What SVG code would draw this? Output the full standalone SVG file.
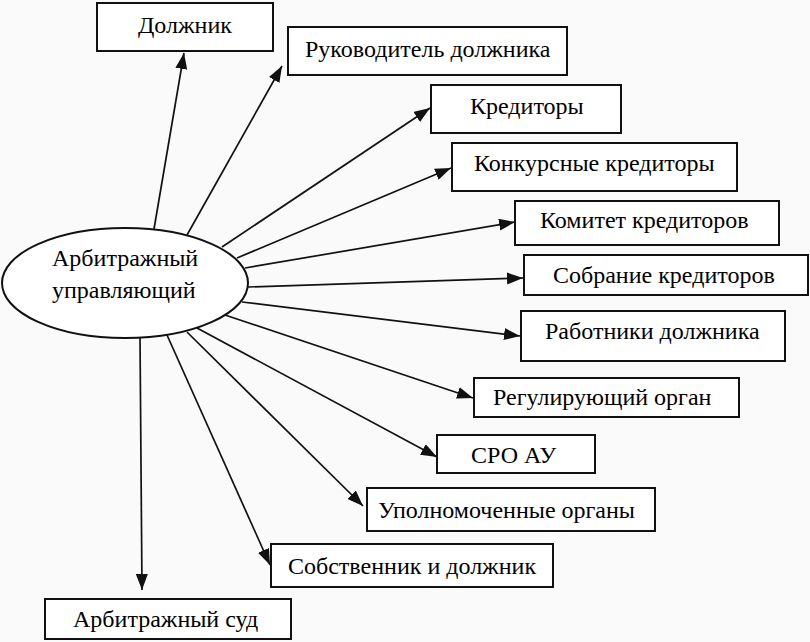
<svg xmlns="http://www.w3.org/2000/svg" width="810" height="642" viewBox="0 0 810 642">
<defs>
<marker id="ah" viewBox="0 0 16 12" refX="16" refY="6" markerWidth="16" markerHeight="12" markerUnits="userSpaceOnUse" orient="auto">
<path d="M0,0 L16,6 L0,12 z" fill="#111"/>
</marker>
</defs>
<rect x="0" y="0" width="810" height="642" fill="#fafafa"/>
<g id="connectors" stroke="#111" stroke-width="1.7" fill="none" marker-end="url(#ah)">
<line x1="154" y1="229" x2="184" y2="53"/>
<line x1="187" y1="235" x2="282" y2="66"/>
<line x1="222" y1="247" x2="430" y2="108"/>
<line x1="237" y1="258" x2="451" y2="168"/>
<line x1="245" y1="268" x2="515" y2="222"/>
<line x1="248" y1="287" x2="523" y2="278"/>
<line x1="242" y1="302" x2="520" y2="336"/>
<line x1="225" y1="315" x2="473" y2="398"/>
<line x1="197" y1="328" x2="437" y2="457"/>
<line x1="187" y1="332" x2="363" y2="506"/>
<line x1="167" y1="335" x2="270" y2="565"/>
<line x1="140" y1="337" x2="142" y2="590"/>
</g>
<g id="manager">
<ellipse cx="125" cy="283" rx="123" ry="55" fill="#fff" stroke="#111" stroke-width="2"/>
<text x="52" y="266" font-family="Liberation Serif" font-size="24">Арбитражный</text>
<text x="52" y="298" font-family="Liberation Serif" font-size="24">управляющий</text>
</g>
<g id="n1"><rect x="97" y="3" width="176" height="48" fill="#fff" stroke="#111" stroke-width="2"/><text x="138" y="33" font-family="Liberation Serif" font-size="24">Должник</text></g>
<g id="n2"><rect x="288" y="27" width="279" height="48" fill="#fff" stroke="#111" stroke-width="2"/><text x="305" y="57" font-family="Liberation Serif" font-size="24">Руководитель должника</text></g>
<g id="n3"><rect x="431" y="85" width="190" height="48" fill="#fff" stroke="#111" stroke-width="2"/><text x="470" y="114" font-family="Liberation Serif" font-size="24">Кредиторы</text></g>
<g id="n4"><rect x="452" y="143" width="285" height="48" fill="#fff" stroke="#111" stroke-width="2"/><text x="474" y="171" font-family="Liberation Serif" font-size="24">Конкурсные кредиторы</text></g>
<g id="n5"><rect x="515" y="201" width="264" height="44" fill="#fff" stroke="#111" stroke-width="2"/><text x="540" y="228" font-family="Liberation Serif" font-size="24">Комитет кредиторов</text></g>
<g id="n6"><rect x="524" y="255" width="284" height="40" fill="#fff" stroke="#111" stroke-width="2"/><text x="553" y="283" font-family="Liberation Serif" font-size="24">Собрание кредиторов</text></g>
<g id="n7"><rect x="521" y="311" width="264" height="50" fill="#fff" stroke="#111" stroke-width="2"/><text x="545" y="339" font-family="Liberation Serif" font-size="24">Работники должника</text></g>
<g id="n8"><rect x="474" y="378" width="265" height="39" fill="#fff" stroke="#111" stroke-width="2"/><text x="493" y="405" font-family="Liberation Serif" font-size="24">Регулирующий орган</text></g>
<g id="n9"><rect x="437" y="435" width="158" height="38" fill="#fff" stroke="#111" stroke-width="2"/><text x="471" y="463" font-family="Liberation Serif" font-size="24">СРО АУ</text></g>
<g id="n10"><rect x="367" y="488" width="288" height="43" fill="#fff" stroke="#111" stroke-width="2"/><text x="378" y="518" font-family="Liberation Serif" font-size="24">Уполномоченные органы</text></g>
<g id="n11"><rect x="271" y="544" width="282" height="43" fill="#fff" stroke="#111" stroke-width="2"/><text x="288" y="574" font-family="Liberation Serif" font-size="24">Собственник и должник</text></g>
<g id="n12"><rect x="45" y="599" width="246" height="40" fill="#fff" stroke="#111" stroke-width="2"/><text x="73" y="627" font-family="Liberation Serif" font-size="24">Арбитражный суд</text></g>
</svg>
